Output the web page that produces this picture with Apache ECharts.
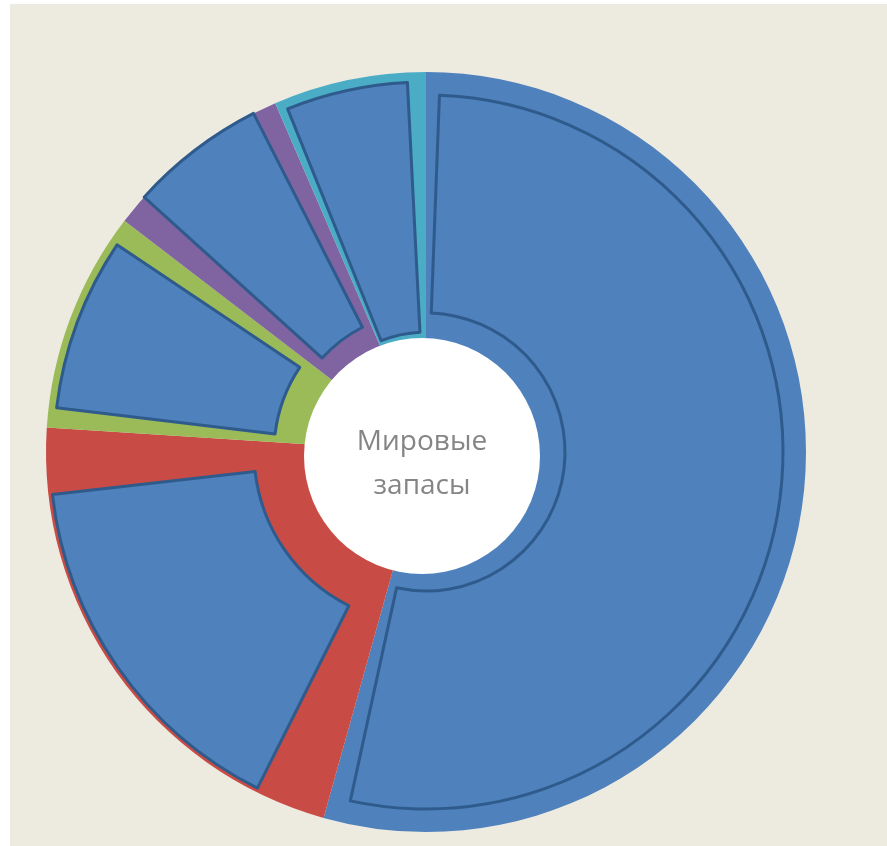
<!DOCTYPE html>
<html lang="ru">
<head>
    <meta charset="UTF-8">
    <title>Мировые запасы</title>
    <script type="text/javascript" src="https://cdn.jsdelivr.net/npm/echarts@6/dist/echarts.min.js"></script>
    <style>
        html, body { margin: 0; padding: 0; background: #ffffff; }
        #main { position: absolute; left: 10px; top: 4px; width: 877px; height: 842px; }
    </style>
</head>
<body>
    <div id="main"></div>
    <script type="text/javascript">
        // shares of the outer ring, percent, clockwise from 12 o'clock
        var segmentNames = ['Сегмент 1', 'Сегмент 2', 'Сегмент 3', 'Сегмент 4', 'Сегмент 5'];
        var outerShares = [54.4, 21.7, 9.4, 8.1, 6.5];
        // blue inset pieces: where each starts on the circle and how big it is (percent)
        var insetStarts = [0.6, 57.4, 76.9, 86.7, 93.9];
        var insetSizes = [52.8, 15.8, 7.5, 5.8, 5.3];
        var centreLines = ['Мировые', 'запасы'];

        var colors = ['#4f81bd', '#c84c45', '#9bbb59', '#8064a2', '#4bacc6'];
        var cx = 416, cy = 448;
        // inner / outer radius of each inset piece
        var insetRadii = [[139, 357], [172, 376], [152, 372], [140, 380], [120, 370]];

        var myChart = echarts.init(document.getElementById('main'));

        var hidden = { color: 'transparent', borderWidth: 0 };
        var series = [];

        series.push({
            type: 'pie',
            center: [cx, cy],
            radius: [100, 380],
            startAngle: 90,
            silent: true,
            animation: false,
            label: { show: false },
            labelLine: { show: false },
            data: outerShares.map(function (v, i) {
                return { name: segmentNames[i], value: v, itemStyle: { color: colors[i], borderWidth: 0 } };
            })
        });

        insetStarts.forEach(function (s, i) {
            series.push({
                type: 'pie',
                center: [cx, cy],
                radius: insetRadii[i],
                startAngle: 90,
                silent: true,
                animation: false,
                label: { show: false },
                labelLine: { show: false },
                data: [
                    { value: s, itemStyle: hidden },
                    { name: segmentNames[i], value: insetSizes[i],
                      itemStyle: { color: '#4f81bd', borderColor: '#2f5b8c', borderWidth: 3 } },
                    { value: 100 - s - insetSizes[i], itemStyle: hidden }
                ]
            });
        });

        series.push({
            type: 'pie',
            center: [cx - 4, cy + 4],
            radius: [0, 118],
            silent: true,
            animation: false,
            labelLine: { show: false },
            label: {
                show: true,
                position: 'center',
                // empty spacer line nudges the two words down a little
                formatter: '{s|}\n' + centreLines.map(function (t) { return '{a|' + t + '}'; }).join('\n'),
                rich: {
                    s: { lineHeight: 16 },
                    a: { fontFamily: 'Open Sans', fontSize: 28, lineHeight: 44, color: '#858585' }
                }
            },
            data: [{ value: 1, itemStyle: { color: '#ffffff', borderWidth: 0 } }]
        });

        myChart.setOption({
            backgroundColor: '#edeae0',
            series: series
        });
    </script>
</body>
</html>
